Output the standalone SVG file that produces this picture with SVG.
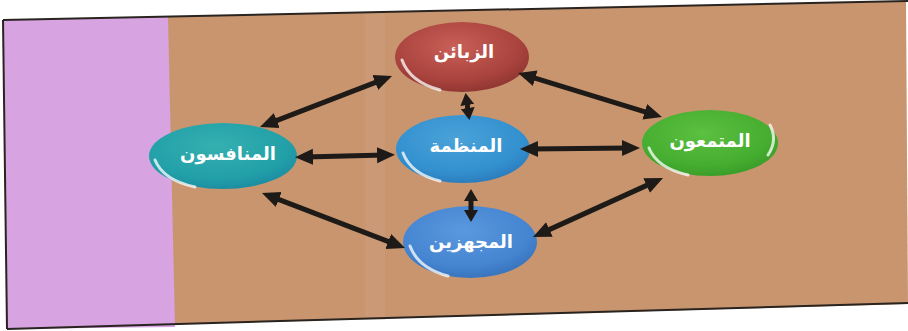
<svg xmlns="http://www.w3.org/2000/svg" width="908" height="331" viewBox="0 0 908 331">
<style>
.lbl{font-family:"DejaVu Sans","Noto Sans",sans-serif;font-size:18px;font-weight:bold;fill:#ffffff;text-anchor:middle;direction:rtl}
.arr{stroke:#1e1a17;stroke-width:5;fill:none;marker-start:url(#ah);marker-end:url(#ah)}
.arrs{stroke:#1e1a17;stroke-width:5;fill:none;marker-start:url(#ahs);marker-end:url(#ahs)}
.hl{fill:none;stroke:#ffffff;stroke-width:3;stroke-linecap:round;opacity:0.75}
</style>
<defs>
<marker id="ah" markerUnits="userSpaceOnUse" markerWidth="20" markerHeight="20" viewBox="0 -10 20 20" refX="8" refY="0" orient="auto-start-reverse">
<path d="M0,-8 L18,0 L0,8 Z" fill="#1e1a17"/>
</marker>
<marker id="ahs" markerUnits="userSpaceOnUse" markerWidth="16" markerHeight="16" viewBox="0 -8 16 16" refX="2" refY="0" orient="auto-start-reverse">
<path d="M0,-7 L12,0 L0,7 Z" fill="#1e1a17"/>
</marker>
<radialGradient id="gRed" cx="0.45" cy="0.35" r="0.7"><stop offset="0" stop-color="#c96058"/><stop offset="0.7" stop-color="#a8423c"/><stop offset="1" stop-color="#8a3330"/></radialGradient>
<radialGradient id="gTeal" cx="0.45" cy="0.35" r="0.7"><stop offset="0" stop-color="#35b0b0"/><stop offset="0.7" stop-color="#22a0a8"/><stop offset="1" stop-color="#1a88a0"/></radialGradient>
<radialGradient id="gBlue" cx="0.45" cy="0.35" r="0.7"><stop offset="0" stop-color="#4aa2d8"/><stop offset="0.7" stop-color="#3390cf"/><stop offset="1" stop-color="#2a78b8"/></radialGradient>
<radialGradient id="gGreen" cx="0.45" cy="0.35" r="0.7"><stop offset="0" stop-color="#5cc040"/><stop offset="0.7" stop-color="#45ad30"/><stop offset="1" stop-color="#379a28"/></radialGradient>
<radialGradient id="gBlue2" cx="0.45" cy="0.35" r="0.7"><stop offset="0" stop-color="#5a98de"/><stop offset="0.7" stop-color="#4584d0"/><stop offset="1" stop-color="#3670b8"/></radialGradient>
</defs>
<rect width="908" height="331" fill="#ffffff"/>
<g id="frame">
<polygon points="3,20 906,1 908,304 7,329" fill="#c8956e"/>
<polygon points="3,20 168,17 175,327 7,329" fill="#d7a3e0"/>
<polygon points="365,13 385,13 385,320 365,320" fill="#d8a890" opacity="0.2"/>
<polyline points="7,329 908,303" fill="none" stroke="#2a2420" stroke-width="2"/>
<polyline points="3,20 908,1" fill="none" stroke="#2a2420" stroke-width="2"/>
<polyline points="3,20 7,329" fill="none" stroke="#2a2420" stroke-width="2"/>
</g>
<g id="node-customers">
<ellipse cx="462" cy="57" rx="67" ry="35" fill="url(#gRed)"/>
<path class="hl" d="M402,60 Q410,82 440,90"/>
<text class="lbl" x="464" y="58">الزبائن</text>
</g>
<g id="node-competitors">
<ellipse cx="223" cy="156" rx="74" ry="33" fill="url(#gTeal)"/>
<path class="hl" d="M155,160 Q163,180 195,187"/>
<text class="lbl" x="228" y="160">المنافسون</text>
</g>
<g id="node-organization">
<ellipse cx="463" cy="149" rx="67" ry="34" fill="url(#gBlue)"/>
<path class="hl" d="M403,153 Q411,174 440,181"/>
<text class="lbl" x="466" y="152">المنظمة</text>
</g>
<g id="node-community">
<ellipse cx="710" cy="143" rx="68" ry="33" fill="url(#gGreen)"/>
<path class="hl" d="M649,148 Q657,168 688,175"/>
<path class="hl" d="M770,125 Q778,140 768,155" opacity="0.4"/>
<text class="lbl" x="710" y="147">المتمعون</text>
</g>
<g id="node-suppliers">
<ellipse cx="470" cy="242" rx="67" ry="36" fill="url(#gBlue2)"/>
<path class="hl" d="M410,246 Q418,268 448,276"/>
<text class="lbl" x="471" y="248">المجهزين</text>
</g>
<g id="connectors">
<line class="arr" x1="269.3" y1="123.4" x2="382.7" y2="79.6"/>
<line class="arr" x1="527.6" y1="75.9" x2="652.4" y2="114.1"/>
<line class="arr" x1="271.3" y1="196.6" x2="395.7" y2="244.4"/>
<line class="arr" x1="542.1" y1="232.9" x2="653.9" y2="182.1"/>
<line class="arr" x1="305" y1="157" x2="385" y2="155"/>
<line class="arr" x1="530" y1="149" x2="630" y2="148"/>
<line class="arrs" x1="467" y1="103" x2="468" y2="110"/>
<line class="arrs" x1="471" y1="199" x2="471" y2="212"/>
</g>
</svg>
